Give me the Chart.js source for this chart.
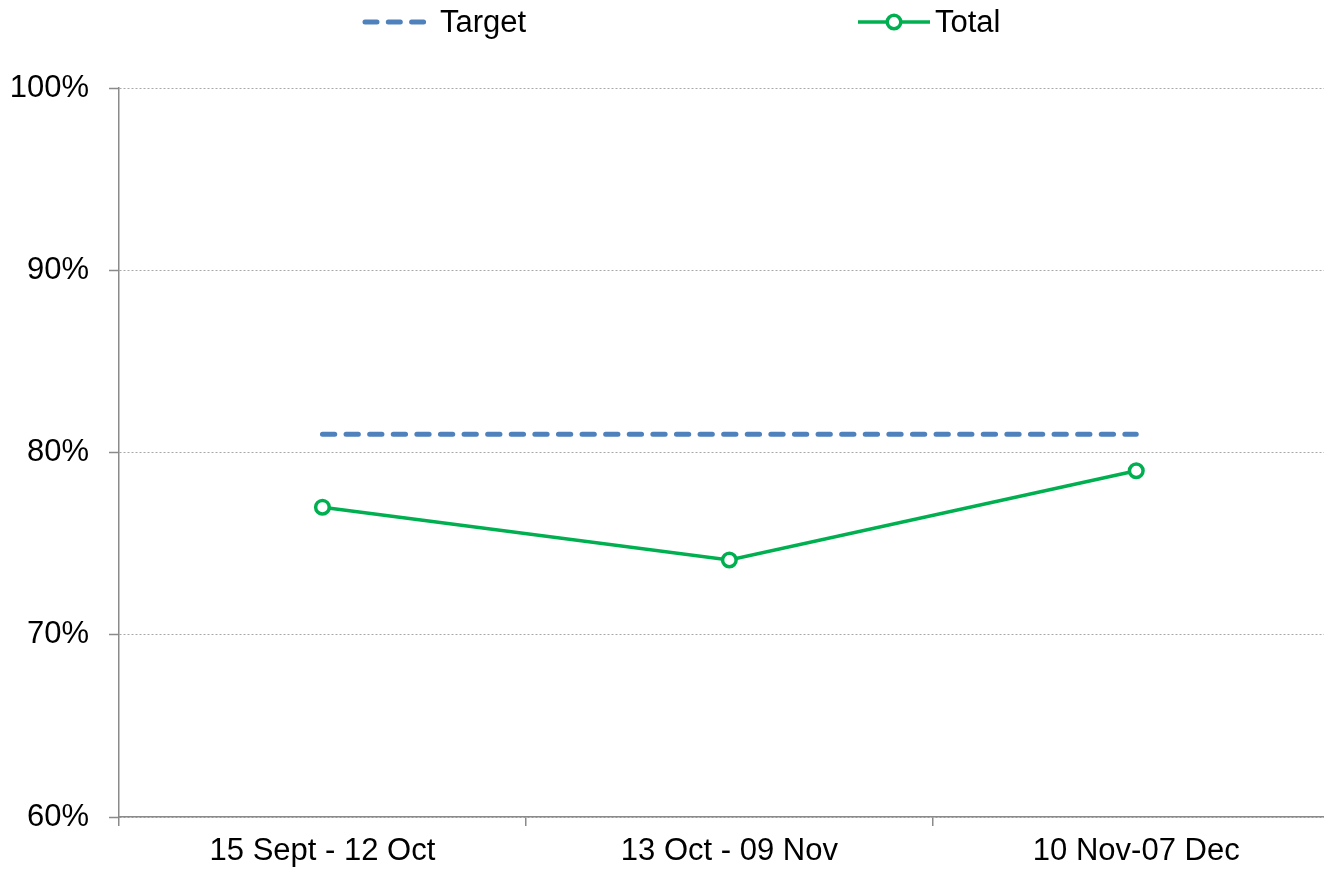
<!DOCTYPE html>
<html>
<head>
<meta charset="utf-8">
<script src="https://cdn.jsdelivr.net/npm/chart.js@4/dist/chart.umd.min.js"></script>
<style>
  html, body { margin: 0; padding: 0; background: #fff; overflow: hidden; }
  #wrap { width: 1350px; height: 872px; }
</style>
</head>
<body>
<div id="wrap"><canvas id="myChart" width="1350" height="872"></canvas></div>
<script>
const categories = ['15 Sept - 12 Oct', '13 Oct - 09 Nov', '10 Nov-07 Dec']
const targetValues = [81, 81, 81]
const totalValues = [77, 74.1, 79]
const yTicks = [60, 70, 80, 90, 100]

const FONT = '"Liberation Sans", Arial, sans-serif'
const FONT_SIZE = 31
const axisGray = '#8a8a8a'

// legend drawn by hand: dashed sample + marker sample like the original
const topLegend = {
  id: 'topLegend',
  afterDraw(chart) {
    const ctx = chart.ctx
    const sets = chart.data.datasets
    const spots = [{ x: 363, w: 62 }, { x: 858, w: 72 }]
    const y = 22
    ctx.save()
    sets.forEach((ds, i) => {
      const s = spots[i]
      ctx.strokeStyle = ds.borderColor
      ctx.lineWidth = ds.borderWidth
      ctx.lineCap = ds.borderCapStyle || 'butt'
      ctx.setLineDash(ds.borderDash ? [12, 11.3] : [])
      ctx.beginPath()
      ctx.moveTo(s.x + (ds.borderDash ? 2 : 0), y)
      ctx.lineTo(s.x + s.w, y)
      ctx.stroke()
      ctx.setLineDash([])
      if (ds.pointRadius) {
        ctx.beginPath()
        ctx.arc(s.x + s.w / 2, y, ds.pointRadius, 0, Math.PI * 2)
        ctx.fillStyle = ds.pointBackgroundColor
        ctx.fill()
        ctx.lineWidth = ds.pointBorderWidth
        ctx.stroke()
      }
      ctx.fillStyle = '#000'
      ctx.font = FONT_SIZE + 'px ' + FONT
      ctx.textBaseline = 'middle'
      ctx.fillText(ds.label, s.x + s.w + (ds.borderDash ? 15 : 5), y + 1)
    })
    ctx.restore()
  },
}

new Chart(document.getElementById('myChart'), {
  type: 'line',
  data: {
    labels: categories,
    datasets: [
      {
        label: 'Target',
        data: targetValues,
        borderColor: '#4f81bd',
        borderWidth: 5,
        borderDash: [12.3, 11.3],
        borderCapStyle: 'round',
        pointRadius: 0,
        fill: false,
      },
      {
        label: 'Total',
        data: totalValues,
        borderColor: '#00b050',
        borderWidth: 3.5,
        pointRadius: 6.8,
        pointBorderWidth: 3.5,
        pointBackgroundColor: '#ffffff',
        pointBorderColor: '#00b050',
        fill: false,
      },
    ],
  },
  options: {
    responsive: false,
    animation: false,
    layout: { padding: { top: 88, right: 4, left: 0, bottom: 0 } },
    plugins: { legend: { display: false }, tooltip: { enabled: false } },
    scales: {
      x: {
        offset: true,
        grid: {
          offset: true,
          drawOnChartArea: false,
          drawTicks: true,
          tickLength: 9,
          color: axisGray,
          lineWidth: 1.5,
        },
        border: { color: axisGray, width: 1.5 },
        ticks: { color: '#000', font: { family: FONT, size: FONT_SIZE }, padding: 7, maxRotation: 0 },
        afterFit: scale => { scale.height = 55 },
      },
      y: {
        min: 60,
        max: 100,
        afterBuildTicks: scale => { scale.ticks = yTicks.map(v => ({ value: v })) },
        grid: {
          color: '#a8a8a8',
          lineWidth: 1,
          tickColor: axisGray,
          tickLength: 10,
          tickWidth: 1.5,
        },
        border: { color: axisGray, width: 1.5, dash: [2, 2] },
        ticks: {
          color: '#000',
          font: { family: FONT, size: FONT_SIZE },
          padding: 20,
          callback: v => v + '%',
        },
        afterFit: scale => { scale.width = 119 },
      },
    },
  },
  plugins: [topLegend],
})
</script>
</body>
</html>
